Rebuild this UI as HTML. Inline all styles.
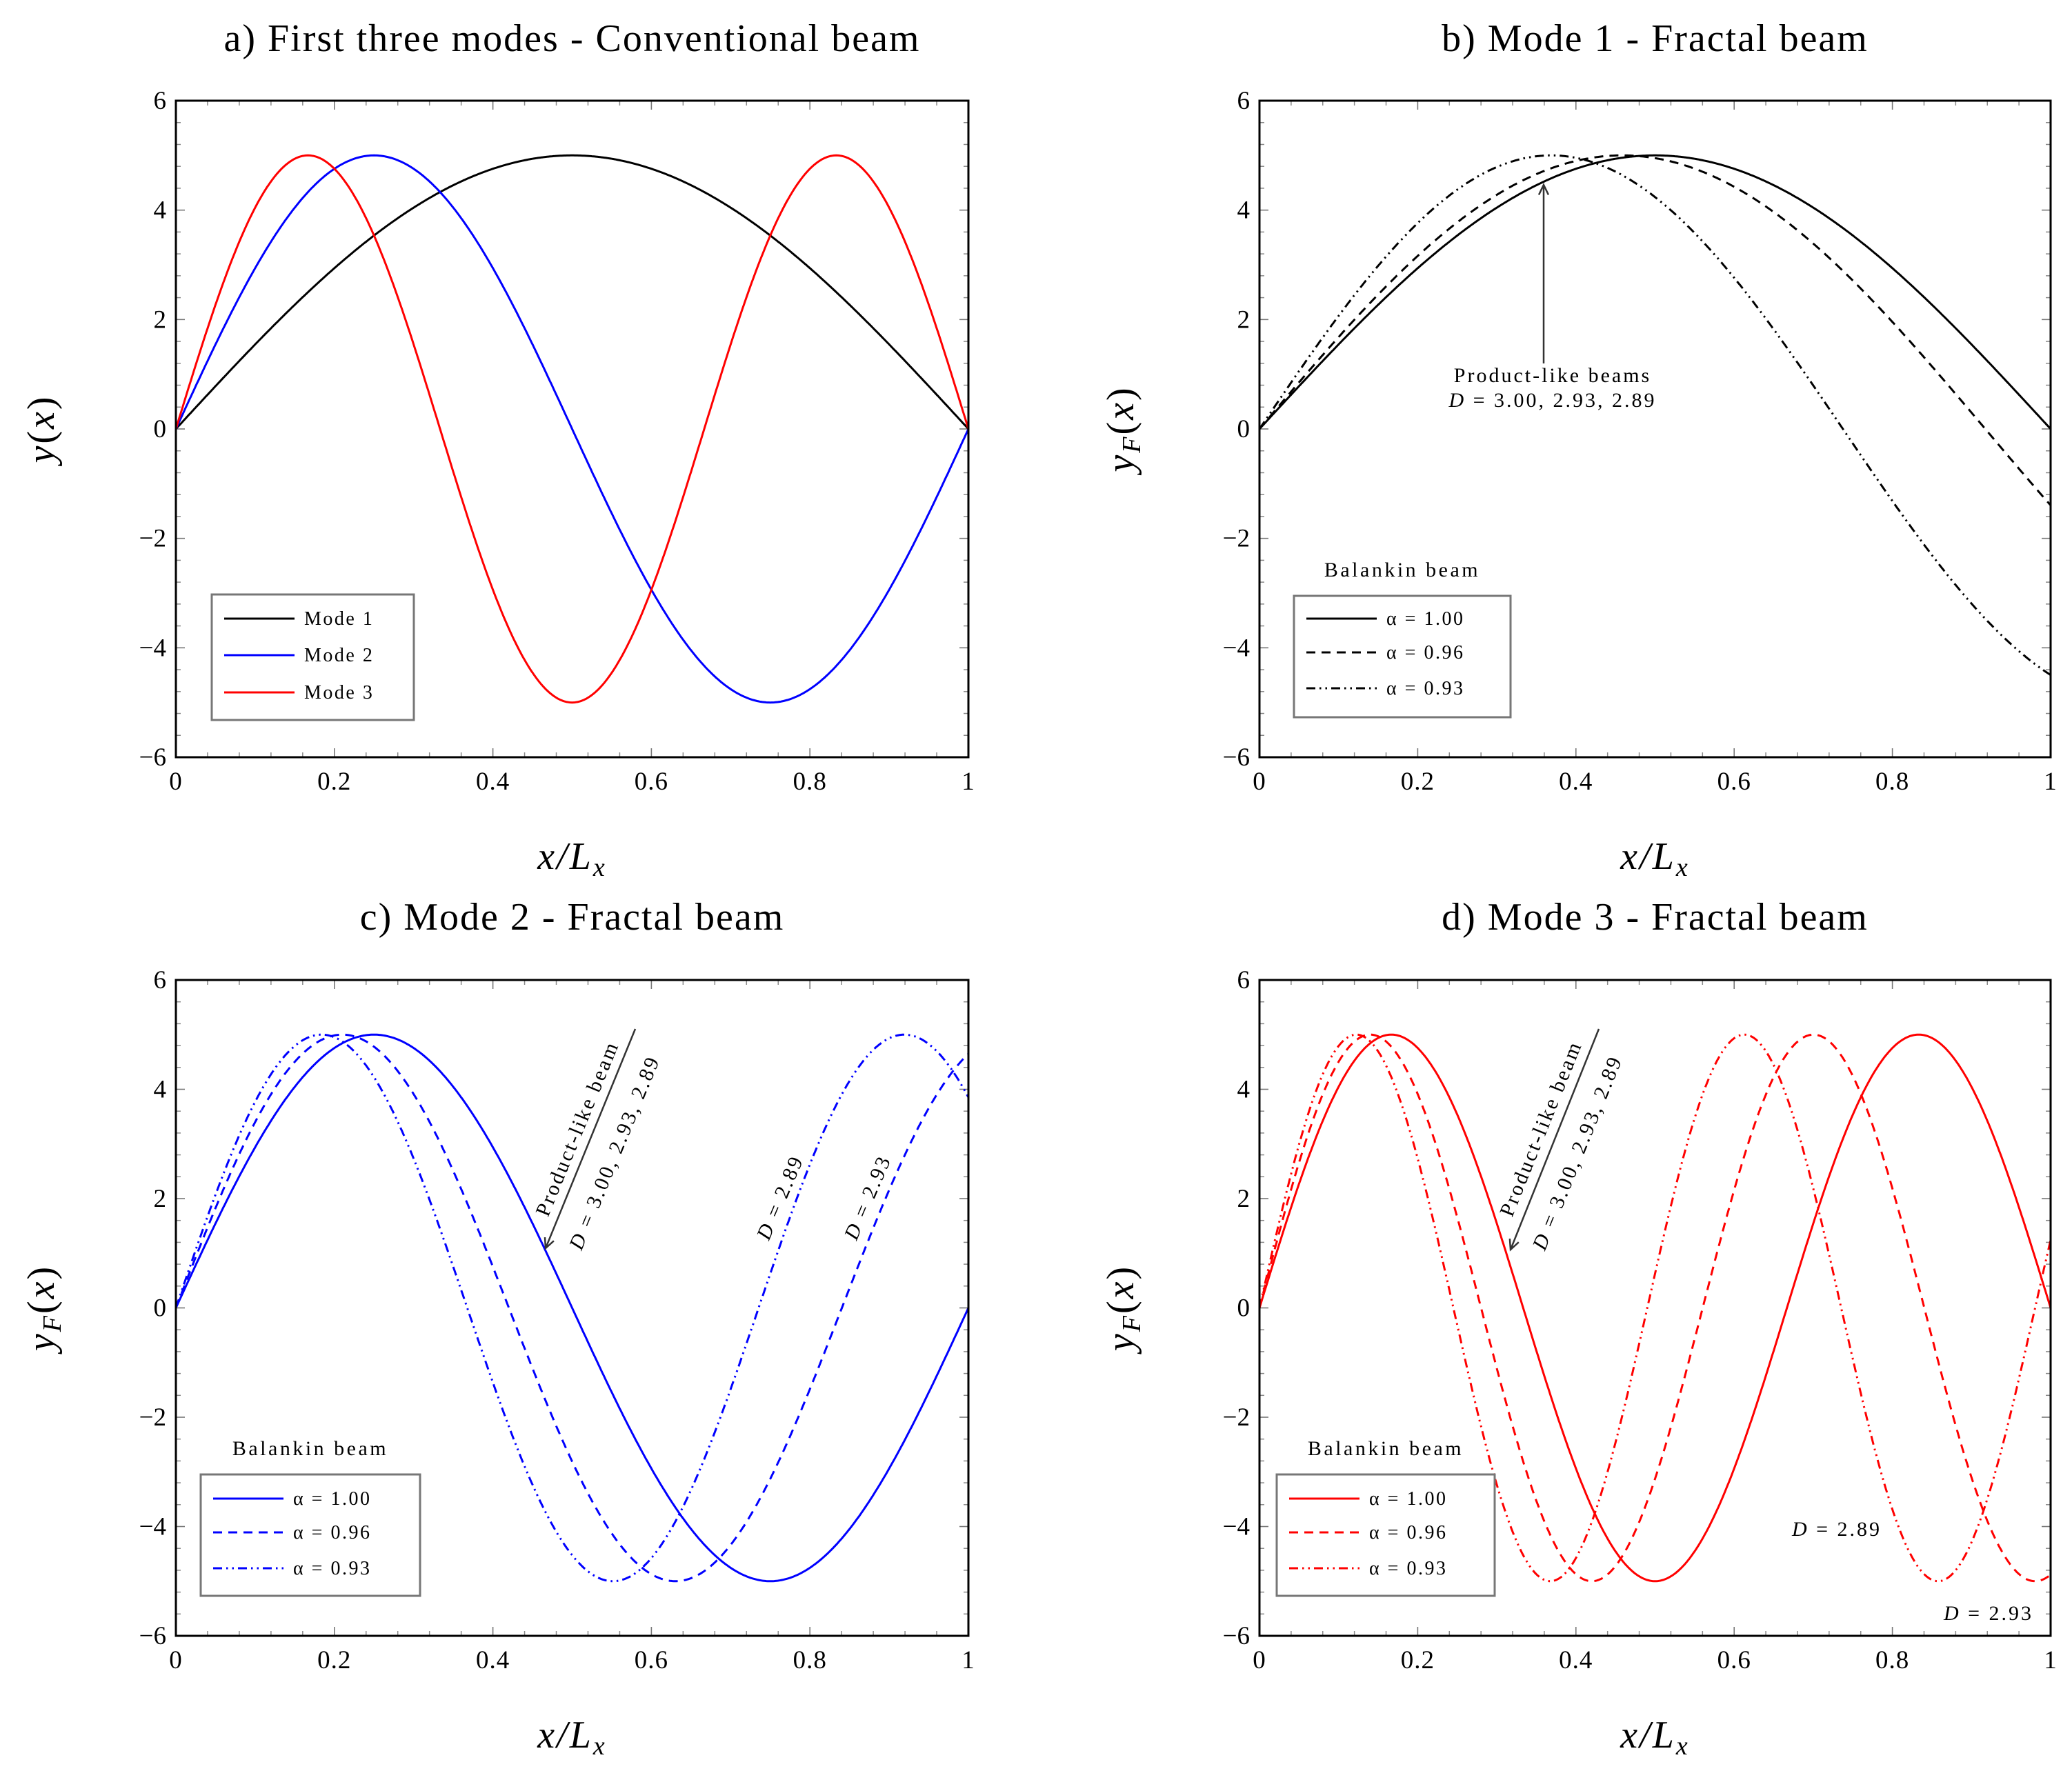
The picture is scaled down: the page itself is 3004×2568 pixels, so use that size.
<!DOCTYPE html>
<html><head><meta charset="utf-8">
<style>
html,body{margin:0;padding:0;background:#fff;}
svg{display:block;font-family:"Liberation Serif","DejaVu Serif",serif;}
</style></head>
<body>
<svg id="fig" width="3004" height="2568" viewBox="0 0 3004 2568" xmlns="http://www.w3.org/2000/svg"></svg>
<script>
// Data: mode shapes y = amp * sin(pi * k * x)
const amplitude = 5;
const seriesA_k = [1, 2, 3];        // conventional modes 1..3
const seriesB_k = [1, 1.09, 1.356]; // mode 1 fractal, alpha 1.00, 0.96, 0.93
const seriesC_k = [2, 2.38, 2.72];  // mode 2 fractal
const seriesD_k = [3, 3.57, 4.08];  // mode 3 fractal
const xTicks = [0, 0.2, 0.4, 0.6, 0.8, 1];
const xTickLabels = ["0", "0.2", "0.4", "0.6", "0.8", "1"];
const yTicks = [-6, -4, -2, 0, 2, 4, 6];
const yTickLabels = ["\u22126", "\u22124", "\u22122", "0", "2", "4", "6"];
const legendA = ["Mode 1", "Mode 2", "Mode 3"];
const legendAlpha = ["\u03b1 = 1.00", "\u03b1 = 0.96", "\u03b1 = 0.93"];

const NS = "http://www.w3.org/2000/svg";
const svg = document.getElementById("fig");
function mk(tag, attrs, parent) {
  const e = document.createElementNS(NS, tag);
  for (const k in attrs) e.setAttribute(k, attrs[k]);
  (parent || svg).appendChild(e);
  return e;
}
const DASH = ["", "13 9", "13 6 2.5 6 2.5 6"];

function panel(o) {
  const g = mk("g", {});
  
  
  const X = v => o.x0 + v * (o.x1 - o.x0);
  const Y = v => o.y1 - (v + 6) / 12 * (o.y1 - o.y0);
  for (let i = 1; i < 25; i++) {
    if (i % 5 === 0) continue;
    const xv = i * 0.04;
    const t1 = mk("line", {x1: X(xv), x2: X(xv), y1: o.y1, y2: o.y1 - 7, stroke: "#888", "stroke-width": 1.5}, g);
    
    
    const t2 = mk("line", {x1: X(xv), x2: X(xv), y1: o.y0, y2: o.y0 + 7, stroke: "#888", "stroke-width": 1.5}, g);
    
    
  }
  for (let i = 1; i < 30; i++) {
    if (i % 5 === 0) continue;
    const yv = -6 + i * 0.4;
    const t1 = mk("line", {x1: o.x0, x2: o.x0 + 7, y1: Y(yv), y2: Y(yv), stroke: "#888", "stroke-width": 1.5}, g);
    
    
    const t2 = mk("line", {x1: o.x1, x2: o.x1 - 7, y1: Y(yv), y2: Y(yv), stroke: "#888", "stroke-width": 1.5}, g);
    
    
  }
  xTicks.forEach((v, i) => {
    const a = mk("line", {x1: X(v), x2: X(v), y1: o.y1, y2: o.y1 - 13, stroke: "#777", "stroke-width": 1.6}, g);
    
    
    const b = mk("line", {x1: X(v), x2: X(v), y1: o.y0, y2: o.y0 + 13, stroke: "#777", "stroke-width": 1.6}, g);
    
    
    const t = mk("text", {x: X(v), y: o.y1 + 47, "font-size": 37, "text-anchor": "middle", "letter-spacing": 1}, g);
    t.textContent = xTickLabels[i];
    
    
  });
  yTicks.forEach((v, i) => {
    const a = mk("line", {x1: o.x0, x2: o.x0 + 13, y1: Y(v), y2: Y(v), stroke: "#777", "stroke-width": 1.6}, g);
    
    
    const b = mk("line", {x1: o.x1, x2: o.x1 - 13, y1: Y(v), y2: Y(v), stroke: "#777", "stroke-width": 1.6}, g);
    
    
    const t = mk("text", {x: o.x0 - 14, y: Y(v) + 12, "font-size": 37, "text-anchor": "end"}, g);
    t.textContent = yTickLabels[i];
    
    
  });
  const cp = mk("clipPath", {id: o.name + "-clip"}, g);
  mk("rect", {x: o.x0, y: o.y0, width: o.x1 - o.x0, height: o.y1 - o.y0}, cp);
  o.ks.forEach((k, si) => {
    let d = "";
    for (let i = 0; i <= 600; i++) {
      const xv = i / 600;
      const yv = amplitude * Math.sin(Math.PI * k * xv);
      d += (i ? "L" : "M") + X(xv).toFixed(1) + " " + Y(yv).toFixed(1);
    }
    const p = mk("path", {d: d, fill: "none", stroke: o.colors[si], "stroke-width": 3, "stroke-dasharray": o.dashed ? DASH[si] : "", "clip-path": "url(#" + o.name + "-clip)"}, g);
    
    
  });
  const fr = mk("rect", {x: o.x0, y: o.y0, width: o.x1 - o.x0, height: o.y1 - o.y0, fill: "none", stroke: "#000", "stroke-width": 3}, g);
  
  
  const ti = mk("text", {x: (o.x0 + o.x1) / 2, y: o.titleY, "font-size": 56, "text-anchor": "middle", "letter-spacing": 2}, g);
  ti.textContent = o.title;
  
  
  const xl = mk("text", {x: (o.x0 + o.x1) / 2, y: o.y1 + 162, "font-size": 56, "text-anchor": "middle", "font-style": "italic", "letter-spacing": 3}, g);
  xl.innerHTML = 'x/L<tspan font-size="38" dy="10">x</tspan>';
  
  
  const yl = mk("text", {x: o.yLabelX, y: (o.y0 + o.y1) / 2, "font-size": 56, "text-anchor": "middle", "font-style": "italic", "letter-spacing": 3, transform: "rotate(-90 " + o.yLabelX + " " + (o.y0 + o.y1) / 2 + ")"}, g);
  yl.innerHTML = o.fractal ? 'y<tspan font-size="38" dy="10">F</tspan><tspan dy="-10" font-style="normal">(</tspan>x<tspan font-style="normal">)</tspan>' : 'y<tspan font-style="normal">(</tspan>x<tspan font-style="normal">)</tspan>';
  
  
  const L = o.legend;
  if (L.title) {
    const lt = mk("text", {x: (L.x0 + L.x1) / 2, y: L.y0 - 28, "font-size": 30, "text-anchor": "middle", "letter-spacing": 3.5}, g);
    lt.textContent = L.title;
    
    
  }
  const lb = mk("rect", {x: L.x0, y: L.y0, width: L.x1 - L.x0, height: L.y1 - L.y0, fill: "#fff", stroke: "#777", "stroke-width": 3}, g);
  
  
  L.labels.forEach((lab, i) => {
    const ry = L.rows[i];
    const ln = mk("line", {x1: L.x0 + 18, x2: L.x0 + 120, y1: ry, y2: ry, stroke: o.colors[i], "stroke-width": 3, "stroke-dasharray": o.dashed ? DASH[i] : ""}, g);
    
    
    const tx = mk("text", {x: L.x0 + 134, y: ry + 9, "font-size": 28, "letter-spacing": 2.5}, g);
    tx.textContent = lab;
    
    
  });
  return g;
}

function rotText(g, txt, cx, cy, ang, size, name) {
  const t = mk("text", {x: cx, y: cy, "font-size": size, "text-anchor": "middle", transform: "rotate(" + ang + " " + cx + " " + cy + ")", "letter-spacing": 3}, g);
  t.innerHTML = txt;
  
  
}
function arrow(g, x1, y1, x2, y2, name) {
  const l = mk("line", {x1: x1, y1: y1, x2: x2, y2: y2, stroke: "#333", "stroke-width": 2.5}, g);
  
  
  const a = Math.atan2(y2 - y1, x2 - x1);
  const h = 16;
  const p = mk("path", {d: "M" + (x2 - h * Math.cos(a - 0.45)) + " " + (y2 - h * Math.sin(a - 0.45)) + " L" + x2 + " " + y2 + " L" + (x2 - h * Math.cos(a + 0.45)) + " " + (y2 - h * Math.sin(a + 0.45)), fill: "none", stroke: "#333", "stroke-width": 2.5}, g);
  
  
}

const BLK = ["#000", "#000", "#000"], BLU = ["#0000ff", "#0000ff", "#0000ff"], RED = ["#ff0000", "#ff0000", "#ff0000"];

panel({name: "panel-a", x0: 255, x1: 1404, y0: 146, y1: 1098, ks: seriesA_k, colors: ["#000", "#0000ff", "#ff0000"], dashed: false,
  title: "a) First three modes - Conventional beam", titleY: 74, yLabelX: 78, fractal: false,
  legend: {x0: 307, x1: 600, y0: 862, y1: 1044, labels: legendA, rows: [897, 950, 1004]}});

const gb = panel({name: "panel-b", x0: 1826, x1: 2973, y0: 146, y1: 1098, ks: seriesB_k, colors: BLK, dashed: true,
  title: "b) Mode 1 - Fractal beam", titleY: 74, yLabelX: 1643, fractal: true,
  legend: {title: "Balankin beam", x0: 1876, x1: 2190, y0: 864, y1: 1040, labels: legendAlpha, rows: [897, 946, 998]}});
arrow(gb, 2238, 527, 2238, 268, "annotation-arrow");
const t1 = mk("text", {x: 2251, y: 554, "font-size": 30, "text-anchor": "middle", "letter-spacing": 3}, gb);
t1.textContent = "Product-like beams";


const t2 = mk("text", {x: 2251, y: 590, "font-size": 30, "text-anchor": "middle", "letter-spacing": 3}, gb);
t2.innerHTML = '<tspan font-style="italic">D</tspan> = 3.00, 2.93, 2.89';



const gc = panel({name: "panel-c", x0: 255, x1: 1404, y0: 1421, y1: 2372, ks: seriesC_k, colors: BLU, dashed: true,
  title: "c) Mode 2 - Fractal beam", titleY: 1348, yLabelX: 78, fractal: true,
  legend: {title: "Balankin beam", x0: 291, x1: 609, y0: 2138, y1: 2314, labels: legendAlpha, rows: [2173, 2222, 2274]}});
arrow(gc, 921, 1492, 791, 1810, "annotation-arrow");
rotText(gc, "Product-like beam", 846, 1640, -67.7, 30, "annotation-label");
rotText(gc, '<tspan font-style="italic">D</tspan> = 3.00, 2.93, 2.89', 900, 1675, -67.7, 30, "annotation-dimensions");
rotText(gc, '<tspan font-style="italic">D</tspan> = 2.89', 1140, 1740, -67, 30, "label-d-2-89");
rotText(gc, '<tspan font-style="italic">D</tspan> = 2.93', 1267, 1740, -67, 30, "label-d-2-93");

const gd = panel({name: "panel-d", x0: 1826, x1: 2973, y0: 1421, y1: 2372, ks: seriesD_k, colors: RED, dashed: true,
  title: "d) Mode 3 - Fractal beam", titleY: 1348, yLabelX: 1643, fractal: true,
  legend: {title: "Balankin beam", x0: 1851, x1: 2167, y0: 2138, y1: 2314, labels: legendAlpha, rows: [2173, 2222, 2274]}});
arrow(gd, 2318, 1492, 2190, 1812, "annotation-arrow");
rotText(gd, "Product-like beam", 2243, 1640, -68, 30, "annotation-label");
rotText(gd, '<tspan font-style="italic">D</tspan> = 3.00, 2.93, 2.89', 2296, 1675, -68, 30, "annotation-dimensions");
const d1 = mk("text", {x: 2663, y: 2227, "font-size": 30, "text-anchor": "middle", "letter-spacing": 3}, gd);
d1.innerHTML = '<tspan font-style="italic">D</tspan> = 2.89';


const d2 = mk("text", {x: 2883, y: 2349, "font-size": 30, "text-anchor": "middle", "letter-spacing": 3}, gd);
d2.innerHTML = '<tspan font-style="italic">D</tspan> = 2.93';


</script>
</body></html>
